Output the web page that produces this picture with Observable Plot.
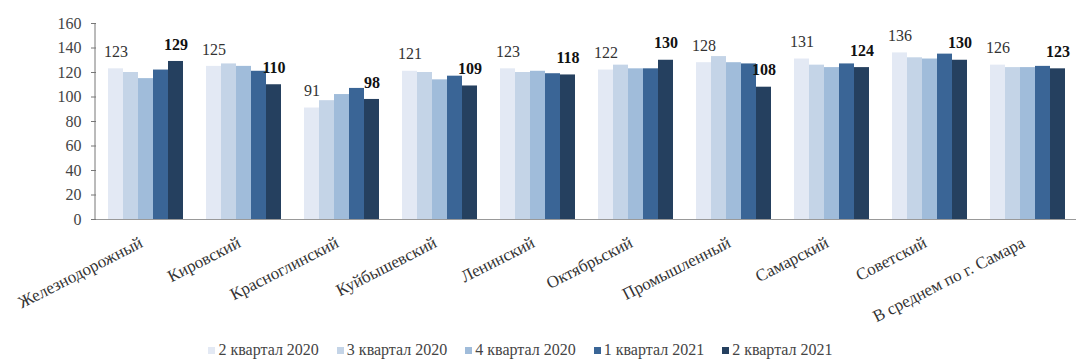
<!DOCTYPE html>
<html>
<head>
<meta charset="utf-8">
<script src="https://cdn.jsdelivr.net/npm/d3@7"></script>
<script src="https://cdn.jsdelivr.net/npm/@observablehq/plot@0.6"></script>
<style>
  html, body { margin: 0; padding: 0; background: #fff; }
  #chart { width: 1077px; font-family: 'Liberation Serif', serif; }
  .legend {
    display: flex; justify-content: center; align-items: center;
    gap: 18px; height: 24px; padding-right: 36px;
    font-family: 'Liberation Serif', serif; font-size: 16px; color: #444;
  }
  .legend span.item { display: inline-flex; align-items: center; white-space: nowrap; }
  .legend i { display: inline-block; width: 7px; height: 7px; margin-right: 3px; }
</style>
</head>
<body>
<div id="chart"></div>
<script>
// Районы Самары
const districts = [
  "Железнодорожный", "Кировский", "Красноглинский", "Куйбышевский", "Ленинский",
  "Октябрьский", "Промышленный", "Самарский", "Советский", "В среднем по г. Самара"
];
// Периоды
const periods = ["2 квартал 2020", "3 квартал 2020", "4 квартал 2020", "1 квартал 2021", "2 квартал 2021"];
// Значения по периодам
const q2_2020 = [123, 125, 91, 121, 123, 122, 128, 131, 136, 126];
const q3_2020 = [120, 127, 97, 120, 120, 126, 133, 126, 132, 124];
const q4_2020 = [115, 125, 102, 114, 121, 123, 128, 124, 131, 124];
const q1_2021 = [122, 121, 107, 117, 119, 123, 127, 127, 135, 125];
const q2_2021 = [129, 110, 98, 109, 118, 130, 108, 124, 130, 123];
const yTicks = [0, 20, 40, 60, 80, 100, 120, 140, 160];
const colors = ["#e3e9f4", "#c4d4e7", "#a0bcda", "#3a6596", "#25405f"];

const seriesValues = [q2_2020, q3_2020, q4_2020, q1_2021, q2_2021];
const rows = [];
districts.forEach((d, i) => {
  periods.forEach((p, j) => rows.push({district: d, period: p, value: seriesValues[j][i], idx: j}));
});
const firstRows = rows.filter(r => r.idx === 0);
const lastRows = rows.filter(r => r.idx === periods.length - 1);

const font = "'Liberation Serif', serif";

const plot = Plot.plot({
  width: 1077,
  height: 338,
  marginLeft: 95,
  marginRight: 0,
  marginTop: 23,
  marginBottom: 119,
  style: `font-family: ${font}; background: #fff;`,
  fx: {domain: districts, padding: 0, label: null},
  x: {domain: periods, paddingInner: 0, paddingOuter: 0.57, axis: null},
  y: {domain: [0, 160], label: null},
  color: {domain: periods, range: colors},
  marks: [
    Plot.barY(rows, {fx: "district", x: "period", y: "value", fill: "period"}),
    Plot.ruleY([0], {stroke: "#999", strokeWidth: 1}),
    Plot.axisY(yTicks, {tickSize: 5, tickPadding: 10, fontSize: 16, color: "#444", stroke: "#777", label: null}),
    Plot.axisFx({anchor: "bottom", tickSize: 0, tickPadding: 22, dx: -4, tickRotate: -27, fontSize: 17, color: "#333", label: null}),
    Plot.text(firstRows, {fx: "district", x: "period", y: "value", text: "value", dy: -17, fontSize: 16, fill: "#333"}),
    Plot.text(lastRows, {fx: "district", x: "period", y: "value", text: "value", dy: -17, fontSize: 16, fontWeight: "bold", fill: "#111"})
  ]
});

// Вертикальная линия оси Y
const ys = plot.scale("y");
const yScale = d3.scaleLinear().domain(ys.domain).range(ys.range);
d3.select(plot).append("line")
  .attr("x1", 95).attr("x2", 95)
  .attr("y1", yScale(160)).attr("y2", yScale(0))
  .attr("stroke", "#777");

const chart = document.getElementById("chart");
chart.appendChild(plot);

// Легенда
const legend = d3.select(chart).append("div").attr("class", "legend");
periods.forEach((p, j) => {
  const item = legend.append("span").attr("class", "item");
  item.append("i").style("background", colors[j]);
  item.append("span").text(p);
});
</script>
</body>
</html>
